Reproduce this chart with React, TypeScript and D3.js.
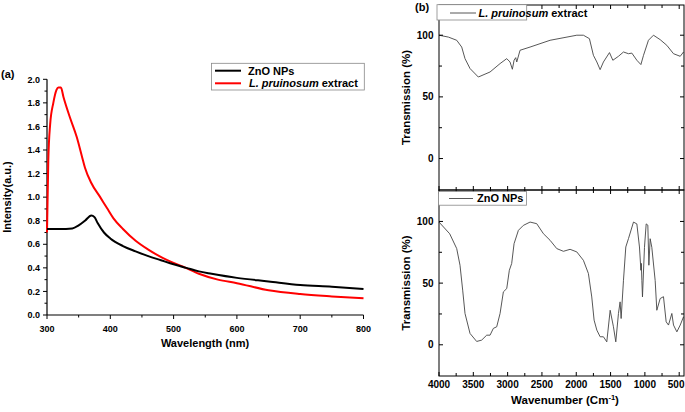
import React from "react";
import * as d3 from "d3";

// ---------- Data ----------
const wlZnO = [300, 320, 340, 350, 360, 370, 375, 380, 390, 400, 420, 440, 460, 480, 500, 520, 540, 560, 600, 650, 700, 750, 800];
const intZnO = [0.73, 0.73, 0.735, 0.76, 0.80, 0.845, 0.83, 0.78, 0.70, 0.65, 0.585, 0.54, 0.50, 0.465, 0.43, 0.40, 0.37, 0.35, 0.315, 0.285, 0.255, 0.24, 0.22];

const wlExt = [300, 302, 305, 310, 315, 318, 322, 326, 336, 347, 355, 360, 370, 384, 395, 405, 420, 440, 460, 490, 515, 540, 570, 600, 650, 700, 750, 800];
const intExt = [0.70, 1.30, 1.62, 1.80, 1.91, 1.93, 1.93, 1.85, 1.68, 1.51, 1.35, 1.25, 1.12, 1.0, 0.905, 0.82, 0.73, 0.63, 0.555, 0.465, 0.41, 0.35, 0.30, 0.27, 0.21, 0.178, 0.158, 0.142];

const wnExt = [4000, 3864, 3742, 3669, 3621, 3548, 3427, 3256, 3110, 3013, 2965, 2931, 2906, 2882, 2867, 2819, 2673, 2381, 1992, 1896, 1808, 1750, 1700, 1652, 1604, 1516, 1467, 1385, 1312, 1239, 1190, 1117, 1058, 1020, 948, 875, 777, 680, 583, 485, 437];
const trExt = [100, 98.5, 95.9, 90.4, 81, 73, 66.1, 70.2, 77, 81, 78.3, 72.4, 79.7, 81.8, 78.3, 87.8, 90.4, 95.9, 100, 100, 97.2, 83.7, 78.3, 72.1, 78.3, 85.9, 79.7, 82.9, 86.4, 85, 85.5, 79.7, 76.2, 83.7, 95.9, 100, 96.4, 91.8, 85, 82.9, 86.4];

const wnZnO = [4000, 3844, 3742, 3694, 3655, 3621, 3548, 3451, 3378, 3305, 3256, 3208, 3159, 3110, 3062, 3013, 2975, 2941, 2906, 2843, 2771, 2673, 2576, 2479, 2381, 2284, 2187, 2090, 1992, 1896, 1823, 1774, 1740, 1700, 1652, 1604, 1555, 1506, 1458, 1424, 1385, 1361, 1346, 1312, 1278, 1239, 1166, 1117, 1079, 1058, 1052, 1044, 1035, 1006, 981, 957, 942, 923, 899, 850, 826, 777, 729, 690, 656, 607, 583, 534, 485, 437];
const trZnO = [99.5, 90, 78, 64.5, 44.3, 25.4, 9.2, 2.7, 3.8, 7.8, 7.8, 13.3, 14.6, 25.4, 42.9, 45.6, 60.4, 65.9, 82, 92.8, 96.8, 99.5, 98.2, 90.1, 84.7, 78, 75.8, 77.4, 75.3, 68.5, 57.8, 38.8, 20, 11.9, 6.5, 6.5, 2.4, 28, 14.6, 2.4, 25.4, 34.8, 21.3, 52.3, 79.3, 86.1, 99.5, 98, 79.3, 60.4, 66, 52.3, 38.8, 79, 98, 97, 64.5, 86, 79, 52, 28, 37.5, 39, 18.6, 16, 25.4, 16, 10.5, 16, 22.7];

const leftYTicks = [0, 0.2, 0.4, 0.6, 0.8, 1.0, 1.2, 1.4, 1.6, 1.8, 2.0];
const leftXTicks = [300, 400, 500, 600, 700, 800];
const rightYTicks = [0, 50, 100];
const rightXTicks = [4000, 3500, 3000, 2500, 2000, 1500, 1000, 500];

const FONT = "'Liberation Sans', Arial, sans-serif";

export default function App() {
  // Left chart
  const xL = d3.scaleLinear().domain([300, 800]).range([47, 363.5]);
  const yL = d3.scaleLinear().domain([0, 2]).range([315, 79.3]);
  const lineL = d3.line<[number, number]>().x(d => xL(d[0])).y(d => yL(d[1])).curve(d3.curveMonotoneX);
  const znoPts = wlZnO.map((w, i) => [w, intZnO[i]] as [number, number]);
  const extPts = wlExt.map((w, i) => [w, intExt[i]] as [number, number]);
  const leftMinorY = d3.range(0.1, 2.0, 0.2);
  const leftMinorX = d3.range(350, 800, 100);

  // Right chart
  const xR = d3.scaleLinear().domain([4000, 430]).range([439, 684]);
  const yTop = d3.scaleLinear().domain([-25.5, 124.5]).range([190, 5]);
  const yBot = d3.scaleLinear().domain([-25.3, 125.5]).range([376, 190]);
  const lineTop = d3.line<[number, number]>().x(d => xR(d[0])).y(d => yTop(d[1])).curve(d3.curveLinear);
  const lineBot = d3.line<[number, number]>().x(d => xR(d[0])).y(d => yBot(d[1])).curve(d3.curveLinear);
  const extR = wnExt.map((w, i) => [w, trExt[i]] as [number, number]);
  const znoR = wnZnO.map((w, i) => [w, trZnO[i]] as [number, number]);
  const xMinorR = d3.range(3750, 400, -500);
  const yMinorR = [25, 75];

  const panels = [
    { y: yTop, top: 5, bottom: 190 },
    { y: yBot, top: 190, bottom: 376 },
  ];
  const rL = 439, rR = 684;

  return (
    <svg width={685} height={412} style={{ position: "absolute", left: 0, top: 0, background: "#fff" }} fontFamily={FONT}>
      <rect x={0} y={0} width={685} height={412} fill="#fff" />
      {/* ---------- Left chart ---------- */}
      <text x={1} y={78} fontSize={11} fontWeight="bold">(a)</text>
      <line x1={xL(300)} x2={xL(300)} y1={yL(0)} y2={yL(2)} stroke="#000" strokeWidth={1.2} />
      <line x1={xL(300)} x2={xL(800)} y1={yL(0)} y2={yL(0)} stroke="#000" strokeWidth={1.2} />
      {leftYTicks.map(t => (
        <g key={"ly" + t}>
          <line x1={xL(300) - 4} x2={xL(300)} y1={yL(t)} y2={yL(t)} stroke="#000" />
          <text x={40} y={yL(t) + 3.2} fontSize={9} fontWeight="bold" textAnchor="end">{t.toFixed(1)}</text>
        </g>
      ))}
      {leftMinorY.map(t => (
        <line key={"lym" + t} x1={xL(300) - 2.5} x2={xL(300)} y1={yL(t)} y2={yL(t)} stroke="#000" />
      ))}
      {leftXTicks.map(t => (
        <g key={"lx" + t}>
          <line x1={xL(t)} x2={xL(t)} y1={yL(0)} y2={yL(0) + 4} stroke="#000" />
          <text x={xL(t)} y={331.5} fontSize={9} fontWeight="bold" textAnchor="middle">{t}</text>
        </g>
      ))}
      {leftMinorX.map(t => (
        <line key={"lxm" + t} x1={xL(t)} x2={xL(t)} y1={yL(0)} y2={yL(0) + 2.5} stroke="#000" />
      ))}
      <text x={205} y={347} fontSize={11} fontWeight="bold" textAnchor="middle">Wavelength (nm)</text>
      <text transform={`translate(11,197) rotate(-90)`} fontSize={11} fontWeight="bold" textAnchor="middle">Intensity(a.u.)</text>
      <path d={lineL(extPts) || ""} fill="none" stroke="#ff0000" strokeWidth={2} />
      <path d={lineL(znoPts) || ""} fill="none" stroke="#000" strokeWidth={2} />
      {/* legend */}
      <rect x={211.5} y={63.3} width={152.8} height={26.7} fill="#fff" stroke="#888" strokeWidth={0.8} />
      <line x1={215} x2={241} y1={70.7} y2={70.7} stroke="#000" strokeWidth={2} />
      <text x={248} y={74.6} fontSize={11} fontWeight="bold">ZnO NPs</text>
      <line x1={215} x2={241} y1={83.3} y2={83.3} stroke="#ff0000" strokeWidth={2} />
      <text x={249} y={87.3} fontSize={11} fontWeight="bold">
        <tspan fontStyle="italic">L. pruinosum</tspan> extract
      </text>

      {/* ---------- Right chart ---------- */}
      <text x={415} y={11} fontSize={11} fontWeight="bold">(b)</text>
      <path d={lineTop(extR) || ""} fill="none" stroke="#444" strokeWidth={0.9} />
      <path d={lineBot(znoR) || ""} fill="none" stroke="#444" strokeWidth={0.9} />
      {panels.map((p, pi) => (
        <g key={"p" + pi}>
          <rect x={rL} y={p.top} width={rR - rL} height={p.bottom - p.top} fill="none" stroke="#000" strokeWidth={1} />
          {rightYTicks.map(t => (
            <g key={"ry" + t}>
              <line x1={rL} x2={rL + 4} y1={p.y(t)} y2={p.y(t)} stroke="#000" />
              <line x1={rR - 4} x2={rR} y1={p.y(t)} y2={p.y(t)} stroke="#000" />
              <text x={433.5} y={p.y(t) + 3.5} fontSize={10} fontWeight="bold" textAnchor="end">{t}</text>
            </g>
          ))}
          {yMinorR.map(t => (
            <g key={"rym" + t}>
              <line x1={rL} x2={rL + 3} y1={p.y(t)} y2={p.y(t)} stroke="#000" />
              <line x1={rR - 3} x2={rR} y1={p.y(t)} y2={p.y(t)} stroke="#000" />
            </g>
          ))}
          {rightXTicks.map(t => (
            <g key={"rx" + t}>
              <line x1={xR(t)} x2={xR(t)} y1={p.bottom} y2={p.bottom - 4} stroke="#000" />
              <line x1={xR(t)} x2={xR(t)} y1={p.top} y2={p.top + 4} stroke="#000" />
            </g>
          ))}
          {xMinorR.map(t => (
            <g key={"rxm" + t}>
              <line x1={xR(t)} x2={xR(t)} y1={p.bottom} y2={p.bottom - 3} stroke="#000" />
              <line x1={xR(t)} x2={xR(t)} y1={p.top} y2={p.top + 3} stroke="#000" />
            </g>
          ))}
          <text transform={`translate(410,${(p.top + p.bottom) / 2}) rotate(-90)`} fontSize={11.5} fontWeight="bold" textAnchor="middle">Transmission (%)</text>
        </g>
      ))}
      {rightXTicks.map(t => (
        <text key={"rxl" + t} x={t === 500 ? 684.5 : xR(t)} y={387.5} fontSize={10} fontWeight="bold" textAnchor={t === 500 ? "end" : "middle"}>{t}</text>
      ))}
      <text x={565} y={404} fontSize={11.5} fontWeight="bold" textAnchor="middle">
        Wavenumber (Cm<tspan dy={-4} fontSize={7.5}>-1</tspan><tspan dy={4}>)</tspan>
      </text>
      {/* right legends */}
      <rect x={437} y={4.7} width={89.7} height={15.3} fill="#fff" stroke="#888" strokeWidth={0.8} />
      <line x1={450} x2={476} y1={13} y2={13} stroke="#444" strokeWidth={0.9} />
      <text x={478.5} y={16.8} fontSize={11} fontWeight="bold">
        <tspan fontStyle="italic">L. pruinosum</tspan> extract
      </text>
      <rect x={438.5} y={191.5} width={88} height={13.7} fill="#fff" stroke="#888" strokeWidth={0.8} />
      <line x1={449} x2={473} y1={198.5} y2={198.5} stroke="#444" strokeWidth={0.9} />
      <text x={477} y={202.4} fontSize={11} fontWeight="bold">ZnO NPs</text>
    </svg>
  );
}
